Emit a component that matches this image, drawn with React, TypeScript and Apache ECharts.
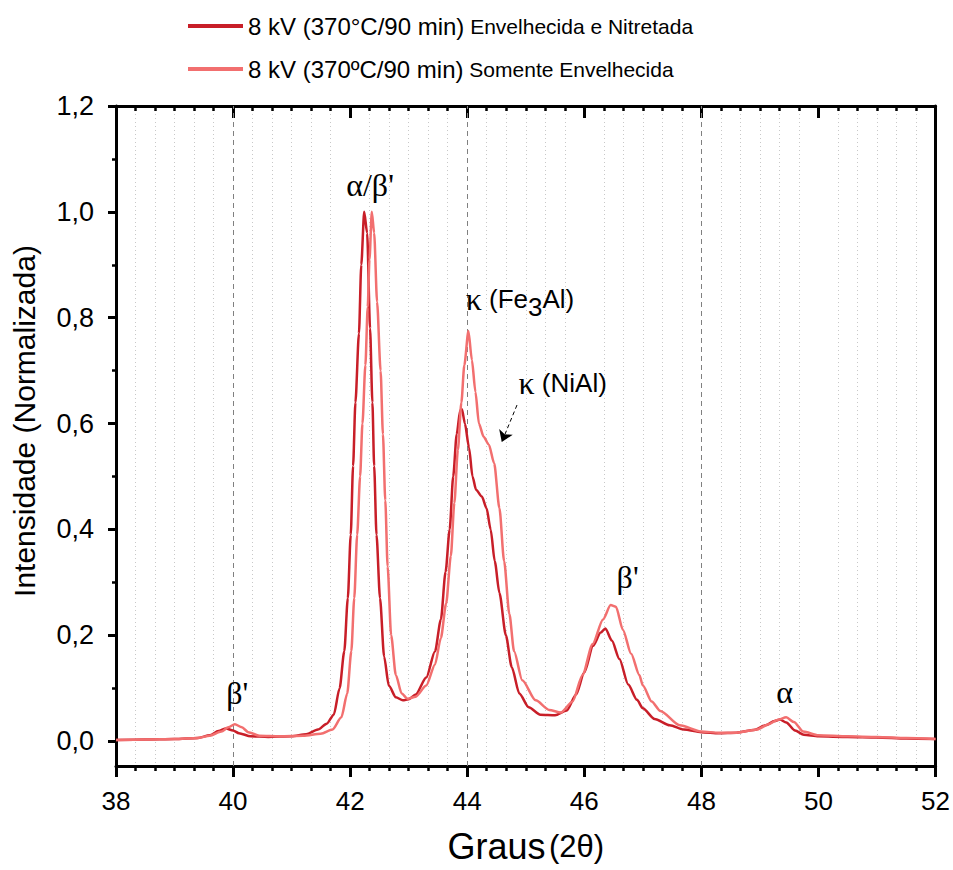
import React, { useEffect, useRef } from "react";
import * as echarts from "echarts";

// ---- data ----
const nameNit = "8 kV (370°C/90 min) Envelhecida e Nitretada";
const nameAged = "8 kV (370ºC/90 min) Somente Envelhecida";

const angleNit = [
  38.0, 38.5, 39.0, 39.4, 39.6, 39.75, 39.88, 40.0, 40.1, 40.3, 40.6, 41.0, 41.25, 41.45, 41.6,
  41.72, 41.82, 41.9, 41.96, 42.01, 42.05, 42.09, 42.15, 42.19, 42.24, 42.29, 42.34, 42.38,
  42.41, 42.45, 42.51, 42.58, 42.66, 42.78, 42.9, 43.0, 43.12, 43.3, 43.45, 43.55, 43.63, 43.7,
  43.76, 43.82, 43.88, 43.91, 43.96, 44.03, 44.09, 44.15, 44.25, 44.33, 44.4, 44.47, 44.55,
  44.66, 44.76, 44.89, 45.05, 45.25, 45.5, 45.7, 45.86, 46.0, 46.15, 46.28, 46.36, 46.47, 46.6,
  46.75, 46.9, 47.0, 47.2, 47.46, 47.7, 48.0, 48.3, 48.6, 48.9, 49.1, 49.25, 49.34, 49.45, 49.6,
  49.75, 50.0, 50.5, 51.0, 51.5, 52.0,
];
const intensityNit = [
  0.002, 0.003, 0.004, 0.006, 0.011, 0.019, 0.024, 0.02, 0.015, 0.009, 0.008, 0.009, 0.013, 0.022,
  0.033, 0.05, 0.1, 0.17, 0.27, 0.39, 0.52, 0.64, 0.77, 0.9, 1.0, 0.96, 0.78, 0.64, 0.52, 0.39,
  0.27, 0.16, 0.105, 0.083, 0.077, 0.079, 0.088, 0.12, 0.17, 0.23, 0.32, 0.4, 0.5, 0.58, 0.625,
  0.627, 0.6, 0.555, 0.5, 0.475, 0.462, 0.44, 0.4, 0.34, 0.28, 0.2, 0.14, 0.09, 0.064, 0.05,
  0.049, 0.058, 0.088, 0.13, 0.18, 0.205, 0.213, 0.19, 0.155, 0.107, 0.078, 0.062, 0.042, 0.03,
  0.022, 0.017, 0.015, 0.016, 0.021, 0.03, 0.038, 0.041, 0.035, 0.02, 0.012, 0.009, 0.008, 0.007,
  0.005, 0.004,
];

const angleAged = [
  38.0, 38.5, 39.0, 39.4, 39.6, 39.8, 39.92, 40.03, 40.15, 40.26, 40.45, 40.8, 41.2, 41.5, 41.7,
  41.85, 41.95, 42.02, 42.07, 42.12, 42.17, 42.21, 42.26, 42.3, 42.33, 42.37, 42.41, 42.46, 42.52,
  42.56, 42.6, 42.64, 42.7, 42.78, 42.88, 42.98, 43.12, 43.3, 43.45, 43.55, 43.64, 43.72, 43.78,
  43.84, 43.9, 43.95, 44.02, 44.08, 44.14, 44.2, 44.28, 44.37, 44.46, 44.55, 44.63, 44.72, 44.8,
  44.94, 45.17, 45.4, 45.6, 45.8, 45.97, 46.14, 46.32, 46.45, 46.54, 46.66, 46.8, 46.94, 47.0,
  47.15, 47.3, 47.63, 48.0, 48.3, 48.6, 48.95, 49.15, 49.3, 49.45, 49.58, 49.74, 50.0, 50.5, 51.0,
  51.5, 52.0,
];
const intensityAged = [
  0.002, 0.003, 0.004, 0.006, 0.01, 0.018, 0.026, 0.032, 0.026, 0.017, 0.01, 0.009, 0.01, 0.014,
  0.022, 0.045, 0.09, 0.17, 0.27, 0.39, 0.5, 0.6, 0.71, 0.82, 0.91, 1.0, 0.96, 0.83, 0.7, 0.58,
  0.455, 0.33, 0.2, 0.125, 0.09, 0.08, 0.084, 0.105, 0.145, 0.195, 0.26, 0.35, 0.45, 0.55, 0.64,
  0.71, 0.775, 0.72, 0.66, 0.6, 0.575, 0.56, 0.525, 0.44, 0.34, 0.24, 0.17, 0.115, 0.077, 0.059,
  0.054, 0.075, 0.125, 0.183, 0.23, 0.257, 0.254, 0.21, 0.165, 0.125, 0.105, 0.075, 0.057, 0.03,
  0.018, 0.016, 0.016, 0.022, 0.032, 0.04, 0.045, 0.036, 0.018, 0.011, 0.009, 0.008, 0.006, 0.004,
];

const yMajorTicks = [0, 0.2, 0.4, 0.6, 0.8, 1.0, 1.2];
const yMinorTicks = [0.1, 0.3, 0.5, 0.7, 0.9, 1.1];
const referenceLines = [40, 44, 48];

// annotations: [text (rich markup), angle, intensity]
const annotations: [string, number, number][] = [
  ["{g|α/β'}", 42.34, 1.05],
  ["{g|κ} {s|(Fe}{sub|3}{s|Al)}", 44.9, 0.835],
  ["{g|κ} {s|(NiAl)}", 45.63, 0.676],
  ["{g|β'}", 40.07, 0.091],
  ["{g|β'}", 46.74, 0.31],
  ["{g|α}", 49.42, 0.093],
];
const arrowFrom = [44.85, 0.635];
const arrowTo = [44.59, 0.565];

const DARK = "#C81E28";
const LIGHT = "#F26F6F";
const SANS = "'Liberation Sans', Arial, sans-serif";
const SERIF = "'Liberation Serif', 'Times New Roman', serif";
const FRAME = { show: true, onZero: false, lineStyle: { color: "#000", width: 3 } };

export default function App() {
  const ref = useRef<HTMLDivElement>(null);
  useEffect(() => {
    if (!ref.current) return;
    const chart = echarts.init(ref.current, null, { renderer: "svg" });
    const nitData = angleNit.map((a, i) => [a, intensityNit[i]]);
    const agedData = angleAged.map((a, i) => [a, intensityAged[i]]);

    const richLabel = {
      g: { fontFamily: SERIF, fontSize: 32, color: "#000" },
      s: { fontFamily: SANS, fontSize: 26, color: "#000" },
      sub: { fontFamily: SANS, fontSize: 26, color: "#000", padding: [16, 0, 0, 0] },
    };

    chart.setOption({
      animation: false,
      backgroundColor: "#fff",
      textStyle: { fontFamily: SANS },
      grid: { left: 116, right: 17, top: 106, bottom: 104 },
      legend: {
        orient: "vertical",
        left: 183,
        top: 6,
        icon: "rect",
        itemWidth: 55,
        itemHeight: 4,
        itemGap: 13,
        formatter: (name: string) => {
          const i = name.indexOf(") ");
          return `{a|${name.slice(0, i + 1)}} {b|${name.slice(i + 2)}}`;
        },
        textStyle: {
          color: "#000",
          fontFamily: SANS,
          fontSize: 21,
          lineHeight: 30,
          rich: {
            a: { fontFamily: SANS, fontSize: 24, color: "#000", lineHeight: 30 },
            b: { fontFamily: SANS, fontSize: 21, color: "#000", lineHeight: 30 },
          },
        },
        data: [nameNit, nameAged],
      },
      xAxis: [
        {
          type: "value",
          min: 38,
          max: 52,
          interval: 2,
          position: "bottom",
          axisLine: FRAME,
          axisTick: { show: true, inside: false, length: 11, lineStyle: { color: "#000", width: 3 } },
          minorTick: { show: true, splitNumber: 6, length: 5, lineStyle: { color: "#000", width: 2.5 } },
          splitLine: { show: false },
          minorSplitLine: { show: true, lineStyle: { color: "#c8c8c8", width: 1, type: [1, 3] } },
          axisLabel: { color: "#000", fontSize: 26, fontFamily: SANS, margin: 22 },
          name: "{g|Graus} {t|(2θ)}",
          nameLocation: "middle",
          nameGap: 62,
          nameTextStyle: {
            color: "#000",
            rich: {
              g: { fontFamily: SANS, fontSize: 36, color: "#000" },
              t: { fontFamily: SANS, fontSize: 31, color: "#000" },
            },
          },
        },
        {
          type: "value",
          min: 38,
          max: 52,
          interval: 2,
          position: "top",
          axisLine: FRAME,
          axisTick: { show: true, inside: true, length: 12, lineStyle: { color: "#000", width: 3 } },
          minorTick: { show: true, splitNumber: 6, length: 5, lineStyle: { color: "#000", width: 2.5 } },
          splitLine: { show: false },
          axisLabel: { show: false },
        },
      ],
      yAxis: [
        {
          type: "value",
          min: -0.047,
          max: 1.2,
          position: "left",
          axisLine: FRAME,
          axisTick: {
            show: true,
            inside: false,
            length: 8,
            customValues: yMajorTicks,
            lineStyle: { color: "#000", width: 3 },
          },
          minorTick: { show: false },
          splitLine: { show: false },
          axisLabel: {
            color: "#000",
            fontSize: 27,
            fontFamily: SANS,
            margin: 22,
            customValues: yMajorTicks,
            formatter: (v: number) => v.toFixed(1).replace(".", ","),
          },
        },
        {
          type: "value",
          min: -0.047,
          max: 1.2,
          position: "left",
          offset: 0,
          axisLine: { show: false, onZero: false },
          axisTick: {
            show: true,
            inside: false,
            length: 4,
            customValues: yMinorTicks,
            lineStyle: { color: "#000", width: 2.5 },
          },
          splitLine: { show: false },
          axisLabel: { show: false },
        },
        {
          type: "value",
          min: -0.047,
          max: 1.2,
          position: "right",
          axisLine: FRAME,
          axisTick: { show: false },
          splitLine: { show: false },
          axisLabel: { show: false },
        },
      ],
      graphic: [
        {
          type: "text",
          x: 24,
          y: 421,
          rotation: Math.PI / 2,
          style: {
            text: "Intensidade (Normalizada)",
            fontFamily: SANS,
            fontSize: 30,
            fill: "#000",
            align: "center",
            verticalAlign: "middle",
            textAlign: "center",
            textVerticalAlign: "middle",
          },
        },
      ],
      series: [
        {
          type: "line",
          name: nameNit,
          data: nitData,
          symbol: "none",
          showSymbol: false,
          smooth: 0.25,
          smoothMonotone: "x",
          lineStyle: { color: DARK, width: 2.5 },
          itemStyle: { color: DARK },
          z: 3,
          markLine: {
            silent: true,
            symbol: "none",
            z: 1,
            label: { show: false },
            lineStyle: { color: "#808080", width: 1, type: [5, 4] },
            data: referenceLines.map((v) => ({ xAxis: v })),
          },
          markPoint: {
            silent: true,
            symbol: "circle",
            symbolSize: 0,
            itemStyle: { color: "transparent" },
            data: annotations.map(([t, x, y]) => ({
              coord: [x, y],
              label: {
                show: true,
                position: "inside",
                formatter: t,
                color: "#000",
                fontFamily: SANS,
                fontSize: 26,
                rich: richLabel,
              },
            })),
          },
        },
        {
          type: "line",
          name: nameAged,
          data: agedData,
          symbol: "none",
          showSymbol: false,
          smooth: 0.25,
          smoothMonotone: "x",
          lineStyle: { color: LIGHT, width: 2.5 },
          itemStyle: { color: LIGHT },
          z: 4,
          markLine: {
            silent: true,
            symbol: ["none", "arrow"],
            symbolSize: 11,
            label: { show: false },
            lineStyle: { color: "#000", width: 1, type: [4, 3] },
            data: [[{ coord: arrowFrom }, { coord: arrowTo }]],
          },
        },
      ],
    });
    return () => chart.dispose();
  }, []);
  return (
    <div
      ref={ref}
      style={{ position: "absolute", left: 0, top: 0, width: 953, height: 870 }}
    />
  );
}
